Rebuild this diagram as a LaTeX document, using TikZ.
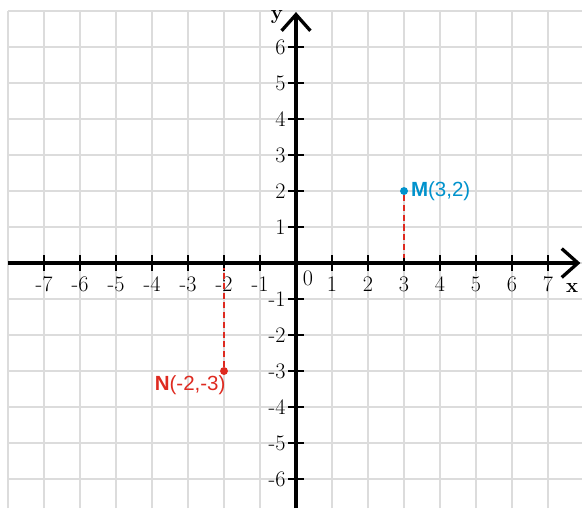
\documentclass[tikz,border=0pt]{standalone}
\usepackage{fontspec}
\setsansfont{Liberation Sans}
\usepackage{tikz}
\usetikzlibrary{positioning, arrows.meta}
\definecolor{gridgray}{RGB}{220,220,220}
\definecolor{ptblue}{RGB}{0,146,204}
\definecolor{ptred}{RGB}{222,42,32}

\begin{document}
\begin{tikzpicture}[
  gridline/.style={draw=gridgray, line width=0.9pt},
  axisline/.style={line width=3pt, -{Straight Barb[length=4.5mm, width=8mm, line width=2.6pt]}},
  tickmark/.style={line width=1pt},
  ticklabel/.style={font=\fontsize{17.5}{20}\selectfont, inner sep=1pt},
  axislabel/.style={font=\fontsize{16}{19}\selectfont\bfseries, inner sep=1pt},
  dot/.style={circle, inner sep=0pt, minimum size=2.2mm},
  proj/.style={draw=ptred, line width=1pt, dash pattern=on 1.7mm off 1mm},
  ptlabel/.style={font=\sffamily\fontsize{16.2}{19}\selectfont, inner sep=1pt},
]
  \useasboundingbox (-8.222,-6.806) rectangle (7.944,7.306);

  % background grid
  \draw[gridline] (-8,-6.806) grid (7.944,7);

  % axes
  \draw[axisline] (-8,0) -- (7.9,0);
  \draw[axisline] (0,-6.806) -- (0,6.97);
  \node[axislabel] (xname) at (7.67,-0.69) {x};
  \node[axislabel] (yname) at (-0.53,6.82) {y};
  \node[ticklabel] (origin) at (0.33,-0.42) {0};

  % ticks on x
  \foreach \x in {-7,...,-1,1,2,...,7} {
    \draw[tickmark] (\x,-0.22) -- (\x,0.22);
    \node[ticklabel, anchor=north] (xl\x) at (\x,-0.33) {\x};
  }
  % ticks on y
  \foreach \y in {-6,...,-1,1,2,...,6} {
    \draw[tickmark] (-0.22,\y) -- (0.22,\y);
    \node[ticklabel, anchor=east] (yl\y) at (-0.25,\y) {\y};
  }

  % points and their projections
  \node[dot, fill=ptblue] (M) at (3,2) {};
  \node[dot, fill=ptred] (N) at (-2,-3) {};
  \coordinate (Mx) at (3,0.15);
  \coordinate (Nx) at (-2,-0.15);
  \draw[proj] (M.south) -- (Mx);
  \draw[proj] (N.north) -- (Nx);

  \node[ptlabel, text=ptblue, right=1pt of M] (Mlabel) {\textbf{M}(3,2)};
  \node[ptlabel, text=ptred, anchor=north east] (Nlabel) at (N.south east) {\textbf{N}(-2,-3)};
\end{tikzpicture}
\end{document}
